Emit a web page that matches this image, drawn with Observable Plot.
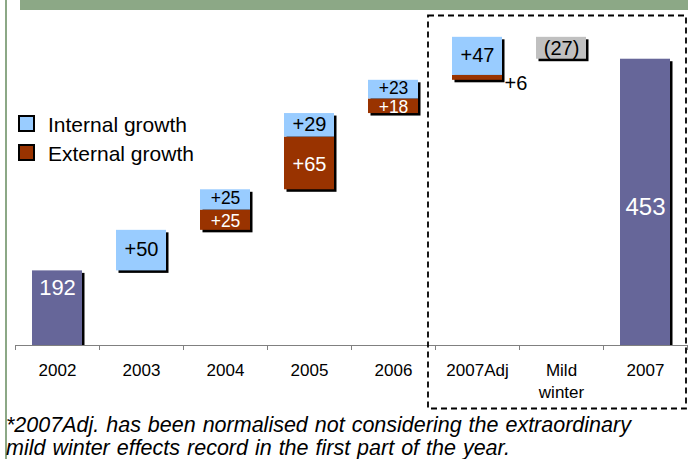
<!DOCTYPE html>
<html>
<head>
<meta charset="utf-8">
<script src="https://cdn.jsdelivr.net/npm/d3@7"></script>
<script src="https://cdn.jsdelivr.net/npm/@observablehq/plot@0.6"></script>
<style>
  html, body { margin: 0; padding: 0; background: #fff; }
  #wrap { position: relative; width: 698px; height: 459px; overflow: hidden; font-family: 'Liberation Sans', Arial, sans-serif; color: #000; }
  #chart { position: absolute; left: 0; top: 0; }
  #overlay { position: absolute; left: 0; top: 0; pointer-events: none; }
  .leg { position: absolute; font-size: 21px; line-height: 21px; white-space: nowrap; }
  .sw { position: absolute; width: 13px; height: 13px; border: 2px solid #000; }
  #note { position: absolute; left: 6px; top: 414px; font-size: 21.5px; line-height: 22.5px; font-style: italic; white-space: nowrap; word-spacing: 1px; }
</style>
</head>
<body>
<div id="wrap">
  <div id="chart"></div>
  <svg id="overlay" width="698" height="459"></svg>
  <div id="legend"></div>
  <div id="note"></div>
</div>
<script>
// ---- data ----
const categories = ["2002", "2003", "2004", "2005", "2006", "2007Adj", "Mild winter", "2007"];
const totalCats = ["2002", "2007"];
const totalValues = [192, 453];
const growthCats = ["2003", "2004", "2005", "2006", "2007Adj"];
const externalGrowth = [0, 25, 65, 18, 6];
const internalGrowth = [50, 25, 29, 23, 47];
const adjustCat = "Mild winter";
const adjustValue = -27;
const axisStart = 100;
const legendLabels = ["Internal growth", "External growth"];
const footnoteLines = [
  "*2007Adj. has been normalised not considering the extraordinary",
  "mild winter effects record in the first part of the year."
];

// ---- colours ----
const C_TOTAL = "#666699", C_INT = "#99CCFF", C_EXT = "#993300", C_ADJ = "#C0C0C0";

// ---- build waterfall segments ----
const segs = [];
const groups = [];
let run = totalValues[0];
segs.push({cat: totalCats[0], y1: axisStart, y2: run, fill: C_TOTAL, kind: "total"});
growthCats.forEach((c, i) => {
  const start = run;
  if (externalGrowth[i] > 0) {
    segs.push({cat: c, y1: run, y2: run + externalGrowth[i], fill: C_EXT, kind: "ext", v: externalGrowth[i]});
    run += externalGrowth[i];
  }
  segs.push({cat: c, y1: run, y2: run + internalGrowth[i], fill: C_INT, kind: "int", v: internalGrowth[i]});
  run += internalGrowth[i];
  groups.push({cat: c, y1: start, y2: run});
});
segs.push({cat: adjustCat, y1: run + adjustValue, y2: run, fill: C_ADJ, kind: "adj", v: adjustValue});
groups.push({cat: adjustCat, y1: run + adjustValue, y2: run});
segs.push({cat: totalCats[1], y1: axisStart, y2: totalValues[1], fill: C_TOTAL, kind: "total"});
const totals = segs.filter(d => d.kind === "total");

const fmt = v => v < 0 ? `(${-v})` : `+${v}`;
const mid = d => (d.y1 + d.y2) / 2;

// label sets: categories whose two segments are both thin get smaller labels
const thin = new Set(growthCats.filter((c, i) => externalGrowth[i] > 0 && externalGrowth[i] < 30 && internalGrowth[i] < 30));
const intLabels = segs.filter(d => d.kind === "int");
const extLabels = segs.filter(d => d.kind === "ext");
const extInside = extLabels.filter(d => d.y2 - d.y1 >= 15);
const extOutside = extLabels.filter(d => d.y2 - d.y1 < 15);
const adjLabels = segs.filter(d => d.kind === "adj");

const font = "'Liberation Sans', Arial, sans-serif";
const step = 84;

const chart = Plot.plot({
  width: 698,
  height: 415,
  marginLeft: 15,
  marginRight: 11,
  marginTop: 20,
  marginBottom: 70,
  x: {type: "band", domain: categories, range: [15, 687], paddingInner: 0.4, paddingOuter: 0.2},
  y: {domain: [axisStart, 500], range: [345, 20.6], axis: null},
  color: {type: "identity"},
  style: {fontFamily: font, background: "transparent", color: "#000", overflow: "visible"},
  marks: [
    // shadows
    Plot.barY(groups, {x: "cat", y1: "y1", y2: "y2", fill: "#000", dx: 2.5, dy: 2.5}),
    Plot.barY(totals, {x: "cat", y1: "y1", y2: "y2", fill: "#000", dx: 2.5, insetTop: 2.5}),
    // bars
    Plot.barY(segs, {x: "cat", y1: "y1", y2: "y2", fill: "fill"}),
    // axis
    Plot.ruleY([axisStart], {stroke: "#808080", strokeWidth: 1}),
    Plot.ruleX(categories, {x: d => d, dx: -step / 2, y1: axisStart, y2: axisStart - 6.2, stroke: "#808080"}),
    Plot.ruleX(categories.slice(-1), {x: d => d, dx: step / 2, y1: axisStart, y2: axisStart - 6.2, stroke: "#808080"}),
    Plot.axisX({
      tickSize: 0, tickPadding: 15, fontSize: 17, lineHeight: 1.3, label: null, fill: "#000",
      tickFormat: d => d === "Mild winter" ? "Mild\nwinter" : d
    }),
    // total labels
    Plot.text(totals.slice(0, 1), {x: "cat", y: "y2", text: d => String(d.y2), fill: "#fff", fontSize: 22, dy: 17}),
    Plot.text(totals.slice(1), {x: "cat", y: mid, text: d => String(d.y2), fill: "#fff", fontSize: 24, dy: 5}),
    // internal labels
    Plot.text(intLabels.filter(d => !thin.has(d.cat)), {x: "cat", y: mid, text: d => fmt(d.v), fill: "#000", fontSize: 20, dy: -1}),
    Plot.text(intLabels.filter(d => thin.has(d.cat)), {x: "cat", y: mid, text: d => fmt(d.v), fill: "#000", fontSize: 17.5, dy: -1.5}),
    // external labels
    Plot.text(extInside.filter(d => !thin.has(d.cat)), {x: "cat", y: mid, text: d => fmt(d.v), fill: "#fff", fontSize: 20, dy: 1}),
    Plot.text(extInside.filter(d => thin.has(d.cat)), {x: "cat", y: mid, text: d => fmt(d.v), fill: "#fff", fontSize: 17.5, dy: 1.5}),
    Plot.text(extOutside, {x: "cat", y: "y1", text: d => fmt(d.v), fill: "#000", fontSize: 20, textAnchor: "start", dx: 27, dy: 3}),
    // adjustment label
    Plot.text(adjLabels, {x: "cat", y: mid, text: d => fmt(d.v), fill: "#000", fontSize: 20})
  ]
});
document.getElementById("chart").appendChild(chart);

// ---- decorations (frame, green band, dashed box) ----
const ov = d3.select("#overlay");
ov.append("rect").attr("x", 20).attr("y", 0).attr("width", 668).attr("height", 10).attr("fill", "#8CA886");
ov.append("rect").attr("x", 5).attr("y", 0).attr("width", 2).attr("height", 459).attr("fill", "#8CA886");
ov.append("rect").attr("x", 428).attr("y", 15.5).attr("width", 258).attr("height", 393)
  .attr("fill", "none").attr("stroke", "#000").attr("stroke-width", 1.8).attr("stroke-dasharray", "6 4");

// ---- legend ----
const leg = d3.select("#legend");
[C_INT, C_EXT].forEach((c, i) => {
  leg.append("div").attr("class", "sw").style("left", "18px").style("top", (115 + i * 28.5) + "px").style("background", c);
  leg.append("div").attr("class", "leg").style("left", "48px").style("top", (114 + i * 29) + "px").text(legendLabels[i]);
});

// ---- footnote ----
d3.select("#note").html(footnoteLines.join("<br>"));
</script>
</body>
</html>
